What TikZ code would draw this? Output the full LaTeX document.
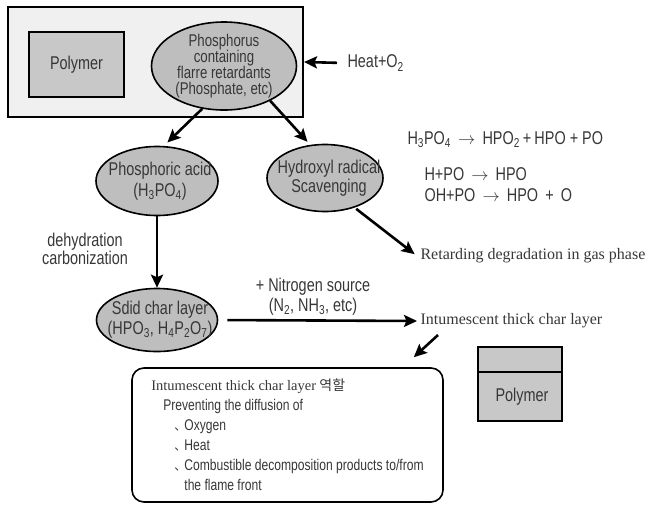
\documentclass[tikz,border=0pt]{standalone}
\usepackage{fontspec}
\setmainfont{Liberation Sans}[FakeStretch=0.78]
\newfontfamily\serifface{Liberation Serif}
\newfontfamily\cjk{Noto Sans CJK KR}
\usetikzlibrary{shapes.geometric,arrows.meta}
\definecolor{blobgray}{RGB}{190,190,190}
\definecolor{boxgray}{RGB}{200,200,200}
\definecolor{framegray}{RGB}{240,240,240}
\definecolor{txtgray}{RGB}{55,55,55}
\newcommand\itemtick{\makebox[10pt][l]{\cjk\fontsize{12}{12}\selectfont 、}}

\begin{document}
\begin{tikzpicture}[x=1pt,y=-1pt,text=txtgray,font=\fontsize{18.5}{16}\selectfont,
  blob/.style={ellipse,draw=black,line width=1.6pt,fill=blobgray,inner sep=0pt},
  layer/.style={rectangle,draw=black,line width=1.6pt,fill=boxgray,inner sep=0pt},
  arr/.style={draw=black,line width=2.6pt,-{Stealth[length=13pt,width=12pt,inset=2.5pt]}}]
\useasboundingbox (0,0) rectangle (647,504);

\node[draw=black,line width=2pt,fill=framegray,minimum width=295,minimum height=110] (f1) at (155.5,62) {};
\node[layer,minimum width=95,minimum height=65] (b1) at (76.5,64.5) {Polymer};
\node[blob,minimum width=145,minimum height=88] (p1) at (224,66) {};
\node[align=center,font=\fontsize{17}{16.2}\selectfont] (p1t) at (p1) {Phosphorus\\containing\\flarre retardants\\(Phosphate, etc)};
\node[anchor=west] (h1) at (344,63) {Heat{+}O\textsubscript{2}};

\node[blob,minimum width=122,minimum height=69] (p2) at (157,181) {};
\node[align=center,font=\fontsize{18.5}{21}\selectfont] (p2t) at (160,181) {Phosphoric acid\\(H\textsubscript{3}PO\textsubscript{4})};
\node[blob,minimum width=116,minimum height=67] (p3) at (325,178) {};
\node[align=center,font=\fontsize{18.5}{19}\selectfont] (p3t) at (329,178) {Hydroxyl radical\\Scavenging};
\node[blob,minimum width=121,minimum height=63] (p4) at (157,320) {};
\node[align=center,font=\fontsize{18.5}{20}\selectfont] (p4t) at (160,320) {Sdid char layer\\(HPO\textsubscript{3}, H\textsubscript{4}P\textsubscript{2}O\textsubscript{7})};

\node[align=center,font=\fontsize{18.5}{18}\selectfont] (d1) at (85,249) {dehydration\\carbonization};
\node[align=center,font=\fontsize{18.5}{20}\selectfont] (n1) at (313,297) {+ Nitrogen source\\(N\textsubscript{2}, NH\textsubscript{3}, etc)};

\node[anchor=west] (e1) at (404,140) {H\textsubscript{3}PO\textsubscript{4}\, $\rightarrow$\, HPO\textsubscript{2}\,{+}\,HPO + PO};
\node[anchor=west,align=left,font=\fontsize{18.5}{21}\selectfont] (e2) at (421,184.5) {H{+}PO\, $\rightarrow$\, HPO\\OH{+}PO\, $\rightarrow$\, HPO\, +\, O};

\node[anchor=west,font=\serifface\fontsize{16}{16}\selectfont] (t1) at (417,256) {Retarding degradation in gas phase};
\node[anchor=west,font=\serifface\fontsize{16}{16}\selectfont] (t2) at (417,321) {Intumescent thick char layer};

\node[layer,minimum width=84,minimum height=25] (s1) at (520,359.5) {};
\node[layer,minimum width=84,minimum height=49] (s2) at (520,396.5) {\hspace*{4pt}Polymer};

\node[draw=black,line width=1.6pt,rounded corners=12pt,minimum width=311,minimum height=134,
  align=left,font=\fontsize{15.5}{20}\selectfont] (r1) at (287.5,435) {%
  {\serifface\fontsize{14.5}{20}\selectfont Intumescent thick char layer} {\cjk\fontsize{14}{20}\selectfont 역할}\\
  \hspace*{12pt}Preventing the diffusion of\\
  \hspace*{23pt}\itemtick Oxygen\\
  \hspace*{23pt}\itemtick Heat\\
  \hspace*{23pt}\itemtick Combustible decomposition products to/from\\
  \hspace*{33pt}the flame front};

\coordinate (c1) at (438,335);

\draw[arr,shorten <=7pt] (h1.west) -- (f1.east);
\draw[arr,shorten >=5pt] (p1.243) -- (p2.79);
\draw[arr,shorten >=4pt] (p1.323) -- (p3.114);
\draw[arr] (p2.south) -- (p4.north);
\draw[arr,shorten <=2pt,shorten >=3pt] (p3.315) -- (t1.west);
\draw[arr,shorten <=9pt] (p4.east) -- (t2.west);
\draw[arr] (c1) -- ([xshift=-30pt,yshift=10pt]r1.north east);
\end{tikzpicture}
\end{document}
